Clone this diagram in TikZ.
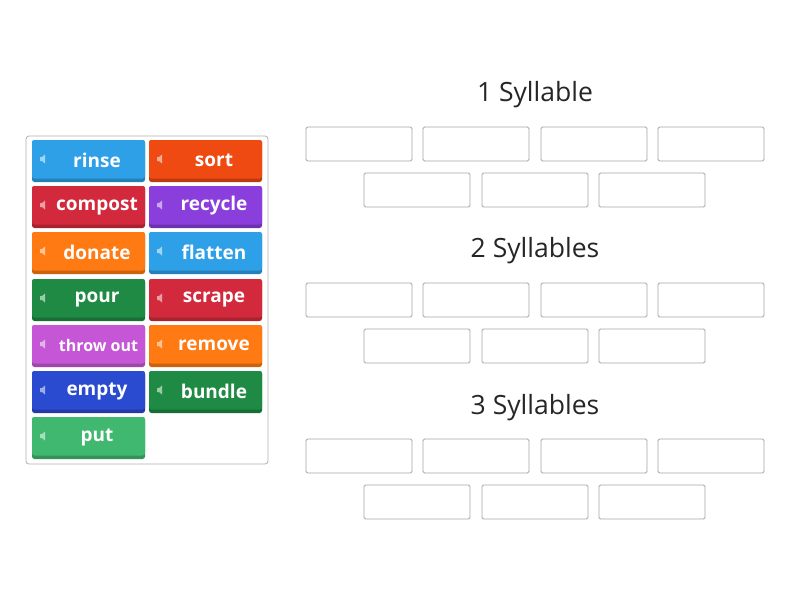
\documentclass[tikz,border=0pt]{standalone}
\usepackage{fontspec}
\setmainfont{Open Sans}
\begin{document}
\begin{tikzpicture}[x=1pt,y=-1pt,
  slot/.style={draw=black!35,line width=0.8pt,rounded corners=1.5pt},
  ttl/.style={font=\fontsize{26.5}{30}\selectfont,text=black!85},
  word/.style={text=white,font=\bfseries\fontsize{19}{22}\selectfont}]
\useasboundingbox (0,0) rectangle (800,600);
\fill[white] (0,0) rectangle (800,600);
\draw[black!30,rounded corners=3pt,line width=0.8pt] (26,136) rectangle (268,464);
\newcommand{\tile}[5]{% x y color name text
  \fill[#3!80!black,rounded corners=2.5pt] (#1,#2) rectangle ++(113,42);
  \fill[#3,rounded corners=2.5pt] (#1,#2) rectangle ++(113,38.5);
  \fill[white,opacity=0.55] (#1+8,#2+17) rectangle ++(2,4) (#1+10,#2+17)--(#1+13,#2+14.5)--(#1+13,#2+23.5)--(#1+10,#2+21)--cycle;
  \node[word] (#4) at (#1+65,#2+20) {#5};}
\definecolor{cblue}{HTML}{2EA0E8}
\definecolor{corg}{HTML}{EE4A12}
\definecolor{cred}{HTML}{D22A3C}
\definecolor{cpur}{HTML}{8A3EDB}
\definecolor{cora}{HTML}{FF7A12}
\definecolor{cgrn}{HTML}{1E8A44}
\definecolor{cpink}{HTML}{C557D6}
\definecolor{cnavy}{HTML}{2A4AD0}
\definecolor{clgr}{HTML}{40B870}
\tile{32}{140}{cblue}{w1}{rinse}
\tile{149}{140}{corg}{w2}{sort}
\tile{32}{186}{cred}{w3}{compost}
\tile{149}{186}{cpur}{w4}{recycle}
\tile{32}{232}{cora}{w5}{donate}
\tile{149}{232}{cblue}{w6}{flatten}
\tile{32}{279}{cgrn}{w7}{pour}
\tile{149}{279}{cred}{w8}{scrape}
\fill[cpink!80!black,rounded corners=2.5pt] (32,325) rectangle ++(113,42);
\fill[cpink,rounded corners=2.5pt] (32,325) rectangle ++(113,38.5);
\fill[white,opacity=0.55] (40,342) rectangle ++(2,4) (42,342)--(45,339.5)--(45,348.5)--(42,346)--cycle;
\node[text=white,font=\bfseries\fontsize{16}{19}\selectfont] (w9) at (98.5,345) {throw out};
\tile{149}{325}{cora}{w10}{remove}
\tile{32}{371}{cnavy}{w11}{empty}
\tile{149}{371}{cgrn}{w12}{bundle}
\tile{32}{417}{clgr}{w13}{put}
\foreach \t/\y/\n in {1 Syllable/95/t1,2 Syllables/251/t2,3 Syllables/408/t3}
  \node[ttl] (\n) at (535,\y) {\t};
\foreach \y in {127,283,439}{
  \foreach \x in {306,423,541,658}
    \draw[slot] (\x,\y) rectangle ++(106,34);
  \foreach \x in {364,482,599}
    \draw[slot] (\x,\y+46) rectangle ++(106,34);
}
\end{tikzpicture}
\end{document}
